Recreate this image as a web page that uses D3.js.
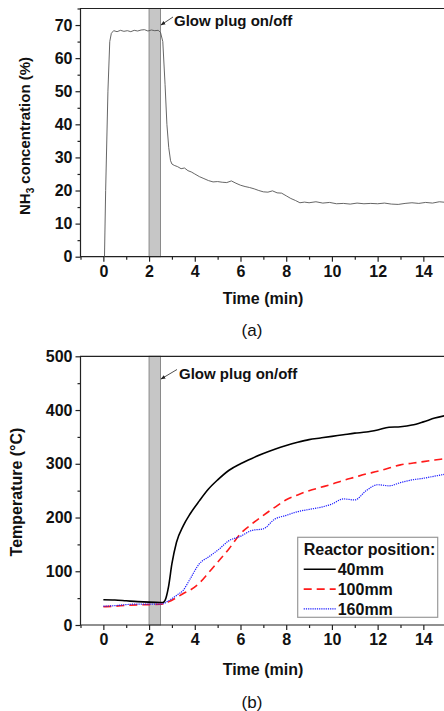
<!DOCTYPE html>
<html>
<head>
<meta charset="utf-8">
<script src="https://cdn.jsdelivr.net/npm/d3@7"></script>
<style>
  body { margin: 0; background: #fff; }
  svg { display: block; font-family: "Liberation Sans", Arial, sans-serif; }
  .tick text { font-weight: bold; font-size: 16px; }
</style>
</head>
<body>
<div id="chart_svg"></div>
<script>
// (a) NH3 concentration vs time
const nh3Time = [0.05, 0.1, 0.2, 0.28, 0.35, 0.45, 0.6, 0.75, 0.9, 1.05, 1.2, 1.35, 1.5, 1.65, 1.8, 1.95, 2.1, 2.25, 2.4, 2.5,
  2.6, 2.7, 2.78, 2.86, 2.94, 3.0, 3.1, 3.25, 3.4, 3.55, 3.7, 3.85, 4.0, 4.2, 4.4, 4.6, 4.8, 5.0, 5.2, 5.4, 5.6, 5.8,
  6.0, 6.2, 6.4, 6.6, 6.8, 7.0, 7.2, 7.4, 7.6, 7.8, 8.0, 8.2, 8.4, 8.6, 8.8, 9.0, 9.3, 9.6, 9.9, 10.2, 10.5, 10.8,
  11.1, 11.4, 11.7, 12.0, 12.3, 12.6, 12.9, 13.2, 13.5, 13.8, 14.1, 14.4, 14.7, 15.0]
const nh3Value = [0, 20, 50, 65, 67.5, 68.3, 68.0, 68.4, 68.1, 68.3, 68.0, 68.4, 68.2, 68.5, 68.6, 68.2, 68.5, 68.3, 68.4, 67.8,
  65, 52, 40, 33, 29, 28, 27.6, 27.2, 26.6, 26.8, 26.0, 25.6, 25.0, 24.2, 23.6, 23.0, 22.6, 22.7, 22.5, 22.4, 22.9, 22.2,
  21.6, 21.2, 20.9, 20.5, 20.0, 19.6, 19.5, 19.9, 19.3, 19.2, 18.4, 17.6, 17.0, 16.3, 16.5, 16.3, 16.6, 16.2, 16.4, 16.0, 16.1, 15.9,
  16.2, 16.0, 16.1, 16.0, 16.2, 15.9, 15.8, 16.1, 16.3, 16.1, 16.4, 16.2, 16.6, 16.4]

// (b) temperature at three reactor positions
const tempTime = [0, 0.5, 1, 1.5, 2, 2.5, 2.6, 2.7, 2.85, 3.0, 3.2, 3.5, 3.8, 4.2, 4.6, 5.0, 5.5, 6.0, 6.5, 7.0, 7.5,
  8.0, 8.5, 9.0, 9.5, 10.0, 10.5, 11.0, 11.5, 12.0, 12.5, 13.0, 13.5, 14.0, 14.5, 15.0]
const temp40 = [47, 46.5, 45, 43.5, 42.5, 42, 42, 46, 71, 114, 154, 185, 207, 231, 253, 270, 288, 300, 310, 319, 327,
  334, 340, 345, 348, 351, 354, 357, 359, 363, 368, 369, 372, 378, 385, 390]
const temp100 = [34, 35, 36.5, 37.5, 38, 38.5, 39, 40, 43, 46, 51, 58.6, 65, 78, 97, 117, 142, 170, 188, 204, 219,
  233, 242, 250, 256, 262, 269, 275, 281, 286, 292, 298, 301, 304, 307, 310]
const temp160 = [35, 36, 38, 39, 39, 39, 39.5, 41, 45, 49, 55, 65, 86, 114, 126.5, 139, 157, 165, 176, 179, 197,
  204, 211, 215, 219, 225, 234.6, 232.7, 250, 261, 259, 265, 270, 273, 277, 281]

const seriesNames = ["40mm", "100mm", "160mm"]
const glowPlug = [2, 2.5]

const xTicks = [0, 2, 4, 6, 8, 10, 12, 14]
const xMinor = [-1, 1, 3, 5, 7, 9, 11, 13, 15]
const yTicksA = [0, 10, 20, 30, 40, 50, 60, 70]
const yMinorA = [5, 15, 25, 35, 45, 55, 65, 75]
const yTicksB = [0, 100, 200, 300, 400, 500]
const yMinorB = [50, 150, 250, 350, 450]

const totalWidth = 444
const totalHeight = 711

var svg = d3.select("#chart_svg")
  .append("svg")
  .attr("width", totalWidth)
  .attr("height", totalHeight)

svg.append("defs").append("marker")
  .attr("id", "arrow")
  .attr("viewBox", "0 0 10 10")
  .attr("refX", 9).attr("refY", 5)
  .attr("markerWidth", 6).attr("markerHeight", 6)
  .attr("orient", "auto")
  .append("path")
  .attr("d", "M0,1 L10,5 L0,9 z")
  .attr("fill", "#222")

var x = d3.scaleLinear().domain([-1, 15]).range([80.5, 446.2])

// draws frame, axes, glow plug band and annotation; returns y scale
function makePanel(yDomain, yRange, yTicks, yMinor, clipId, yTitle, caption, ann) {
  var y = d3.scaleLinear().domain(yDomain).range(yRange)
  var y0 = y(yDomain[0])
  var g = svg.append("g")

  g.append("clipPath").attr("id", clipId)
    .append("rect")
    .attr("x", x(-1)).attr("y", y(yDomain[1]))
    .attr("width", x(15) - x(-1)).attr("height", y0 - y(yDomain[1]))

  // glow plug on/off band
  g.append("rect")
    .attr("x", x(glowPlug[0]))
    .attr("y", y(yDomain[1]))
    .attr("width", x(glowPlug[1]) - x(glowPlug[0]))
    .attr("height", y0 - y(yDomain[1]))
    .attr("fill", "#c6c6c6")
    .attr("stroke", "#8a8a8a")
    .attr("stroke-width", 1)

  // x axis
  var xa = g.append("g").attr("transform", "translate(0," + y0 + ")")
  xa.call(d3.axisBottom(x).tickValues(xTicks).tickSize(5).tickPadding(4).tickFormat(d3.format("d")))
  xa.append("g").call(d3.axisBottom(x).tickValues(xMinor).tickSize(3).tickFormat(""))
  xa.selectAll(".domain").remove()
  xa.selectAll("line").attr("stroke", "#222").attr("stroke-width", 1.2)
  xa.selectAll("text").attr("fill", "#111")

  // y axis
  var ya = g.append("g").attr("transform", "translate(" + x(-1) + ",0)")
  ya.call(d3.axisLeft(y).tickValues(yTicks).tickSize(5).tickPadding(3).tickFormat(d3.format("d")))
  ya.append("g").call(d3.axisLeft(y).tickValues(yMinor).tickSize(3).tickFormat(""))
  ya.selectAll(".domain").remove()
  ya.selectAll("line").attr("stroke", "#222").attr("stroke-width", 1.2)
  ya.selectAll("text").attr("fill", "#111")

  // frame: left, bottom, top
  g.append("path")
    .attr("d", "M" + x(15) + "," + y(yDomain[1]) + "H" + x(-1) + "V" + y0 + "H" + x(15))
    .attr("fill", "none").attr("stroke", "#222").attr("stroke-width", 1.2)

  // titles
  g.append("text")
    .attr("x", 263).attr("y", y0 + caption.titleDy)
    .attr("text-anchor", "middle")
    .attr("font-size", 16).attr("font-weight", "bold").attr("fill", "#111")
    .text("Time (min)")
  g.append("text")
    .attr("x", 252).attr("y", y0 + caption.dy)
    .attr("text-anchor", "middle")
    .attr("font-size", 17).attr("fill", "#111")
    .text(caption.text)

  var yt = g.append("text")
    .attr("transform", "translate(" + yTitle.x + "," + yTitle.y + ") rotate(-90)")
    .attr("text-anchor", "middle")
    .attr("font-size", yTitle.size).attr("font-weight", "bold").attr("fill", "#111")
  yTitle.parts.forEach(function(p) {
    var t = yt.append("tspan").text(p.t)
    if (p.sub) t.attr("font-size", 10).attr("dy", 4)
    else if (p.after) t.attr("dy", -4)
  })

  // annotation with arrow
  g.append("line")
    .attr("x1", ann.tailX).attr("y1", ann.tailY)
    .attr("x2", x(glowPlug[1]) + 0.5).attr("y2", ann.tipY)
    .attr("stroke", "#222").attr("stroke-width", 0.8)
    .attr("marker-end", "url(#arrow)")
  g.append("text")
    .attr("x", ann.textX).attr("y", ann.baseline)
    .attr("font-size", 15).attr("font-weight", "bold").attr("fill", "#111")
    .text("Glow plug on/off")

  return y
}

// panel (a)
var yA = makePanel([0, 75], [256.7, 8.5], yTicksA, yMinorA, "clipA",
  {x: 30, y: 136, size: 15, parts: [{t: "NH"}, {t: "3", sub: true}, {t: " concentration (%)", after: true}]},
  {text: "(a)", titleDy: 47, dy: 79},
  {tailX: 173, tailY: 17, tipY: 25, textX: 174, baseline: 25.5})

var nh3Data = nh3Time.map(function(t, i) { return {x: t, y: nh3Value[i]} })
svg.append("path")
  .datum(nh3Data)
  .attr("clip-path", "url(#clipA)")
  .attr("fill", "none")
  .attr("stroke", "#555")
  .attr("stroke-width", 0.9)
  .attr("d", d3.line()
    .x(function(d) { return x(d.x) })
    .y(function(d) { return yA(d.y) })
  )

// panel (b)
var yB = makePanel([0, 500], [625, 356.3], yTicksB, yMinorB, "clipB",
  {x: 22, y: 492, size: 16, parts: [{t: "Temperature (°C)"}]},
  {text: "(b)", titleDy: 50, dy: 83},
  {tailX: 177, tailY: 369.5, tipY: 379, textX: 179, baseline: 379})

var styles = [
  {color: "#000", width: 1.6, dash: null},
  {color: "#ff1a1a", width: 1.6, dash: "8,5"},
  {color: "#1a1aff", width: 1.2, dash: "1.2,1"}
]
var tempSeries = [temp40, temp100, temp160]
var line = d3.line()
  .x(function(d) { return x(d.x) })
  .y(function(d) { return yB(d.y) })
  .curve(d3.curveMonotoneX)

tempSeries.forEach(function(vals, i) {
  var data = tempTime.map(function(t, j) { return {x: t, y: vals[j]} })
  svg.append("path")
    .datum(data)
    .attr("clip-path", "url(#clipB)")
    .attr("fill", "none")
    .attr("stroke", styles[i].color)
    .attr("stroke-width", styles[i].width)
    .attr("stroke-dasharray", styles[i].dash)
    .attr("d", line)
})

// legend
var lg = svg.append("g").attr("transform", "translate(297.7,537.3)")
lg.append("rect")
  .attr("width", 140).attr("height", 80)
  .attr("fill", "#fff").attr("stroke", "#999").attr("stroke-width", 1.2)
lg.append("text")
  .attr("x", 6).attr("y", 17.5)
  .attr("font-size", 16).attr("font-weight", "bold").attr("fill", "#111")
  .text("Reactor position:")
seriesNames.forEach(function(name, i) {
  var yy = 32 + i * 19.8
  lg.append("line")
    .attr("x1", 6).attr("x2", 38).attr("y1", yy).attr("y2", yy)
    .attr("stroke", styles[i].color)
    .attr("stroke-width", styles[i].width)
    .attr("stroke-dasharray", styles[i].dash)
  lg.append("text")
    .attr("x", 40).attr("y", yy + 5.7)
    .attr("font-size", 16).attr("font-weight", "bold").attr("fill", "#111")
    .text(name)
})
</script>
</body>
</html>
